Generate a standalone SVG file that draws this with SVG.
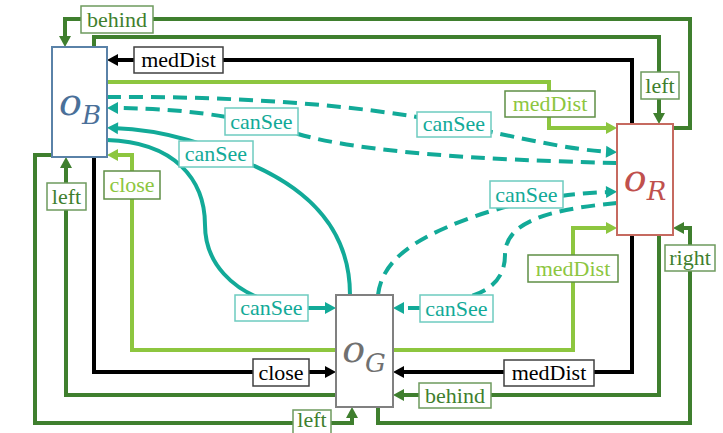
<svg xmlns="http://www.w3.org/2000/svg" width="723" height="433" viewBox="0 0 723 433">
<style>
.ln{fill:none;stroke-width:4;stroke-linejoin:miter}
.dg{stroke:#3F7F2E}
.lg{stroke:#8DC63F}
.tl{stroke:#12AA98}
.bk{stroke:#000}
.da{stroke-dasharray:14 8}
.lb rect{fill:#fff;stroke-width:1.5}
.lb text{font-family:"Liberation Serif",serif;font-size:22px;text-anchor:middle}
.ldg rect{stroke:#6E9A5E}.ldg text{fill:#3F7F2E}
.llg rect{stroke:#5F8F45}.llg text{fill:#8DC63F}
.ltl rect{stroke:#6ECBC0}.ltl text{fill:#12AA98}
.lbk rect{stroke:#404040}.lbk text{fill:#000}
.node rect{fill:#fff;stroke-width:2}
.node text{font-family:"DejaVu Serif",serif;font-style:italic;text-anchor:middle;font-size:38px}
.node tspan{font-size:26px}
</style>
<defs>
<marker id="aDG" markerUnits="userSpaceOnUse" markerWidth="12" markerHeight="12" refX="5" refY="6" orient="auto" overflow="visible"><path d="M0,0 L11,6 L0,12 z" fill="#3F7F2E"/></marker>
<marker id="aLG" markerUnits="userSpaceOnUse" markerWidth="12" markerHeight="12" refX="5" refY="6" orient="auto" overflow="visible"><path d="M0,0 L11,6 L0,12 z" fill="#8DC63F"/></marker>
<marker id="aTL" markerUnits="userSpaceOnUse" markerWidth="12" markerHeight="12" refX="5" refY="6" orient="auto" overflow="visible"><path d="M0,0 L11,6 L0,12 z" fill="#12AA98"/></marker>
<marker id="aBK" markerUnits="userSpaceOnUse" markerWidth="12" markerHeight="12" refX="5" refY="6" orient="auto" overflow="visible"><path d="M0,0 L11,6 L0,12 z" fill="#000"/></marker>
</defs>
<rect width="723" height="433" fill="#fff"/>
<g id="connectors">
<path class="ln dg" d="M673,128 H690 V19 H65 V41" marker-end="url(#aDG)"/>
<path class="ln dg" d="M94,47 V37 H659 V118" marker-end="url(#aDG)"/>
<path class="ln bk" d="M632,124 V60 H113" marker-end="url(#aBK)"/>
<path class="ln lg" d="M107,82 H549 V128 H611" marker-end="url(#aLG)"/>
<path class="ln tl da" d="M107,97 C230,96 360,104 454,124 C520,138 570,150 611,152" marker-end="url(#aTL)"/>
<path class="ln tl da" d="M617,163 C480,160 360,152 298,134 C260,122 200,108 113,108" marker-end="url(#aTL)"/>
<path class="ln tl" d="M350,295 C350,230 310,190 250,164 C210,146 170,130 113,128" marker-end="url(#aTL)"/>
<path class="ln tl" d="M107,140 C175,142 205,180 205,225 C205,265 235,290 265,300 L290,308 H330" marker-end="url(#aTL)"/>
<path class="ln tl da" d="M378,295 C382,262 410,240 470,218 C520,200 570,193 611,192" marker-end="url(#aTL)"/>
<path class="ln tl da" d="M617,203 C540,210 505,225 505,255 C505,282 485,295 455,300 L425,308 H399" marker-end="url(#aTL)"/>
<path class="ln lg" d="M336,350 H132 V155 H113" marker-end="url(#aLG)"/>
<path class="ln lg" d="M393,350 H573 V228 H611" marker-end="url(#aLG)"/>
<path class="ln bk" d="M94,157 V372 H330" marker-end="url(#aBK)"/>
<path class="ln bk" d="M632,235 V372 H399" marker-end="url(#aBK)"/>
<path class="ln dg" d="M336,395 H66 V163" marker-end="url(#aDG)"/>
<path class="ln dg" d="M659,235 V395 H399" marker-end="url(#aDG)"/>
<path class="ln dg" d="M52,155 H35 V423 H352 V413" marker-end="url(#aDG)"/>
<path class="ln dg" d="M378,407 V423 H690 V228 H679" marker-end="url(#aDG)"/>
<g class="lb ldg"><rect x="81" y="6" width="72" height="27"/><text x="117" y="27">behind</text></g>
<g class="lb lbk"><rect x="134" y="47" width="89" height="26"/><text x="178.5" y="67">medDist</text></g>
<g class="lb ldg"><rect x="641" y="72" width="38" height="27"/><text x="660" y="93">left</text></g>
<g class="lb llg"><rect x="505" y="91" width="90" height="26"/><text x="550" y="111">medDist</text></g>
<g class="lb ltl"><rect x="417" y="112" width="74" height="25"/><text x="454" y="131">canSee</text></g>
<g class="lb ltl"><rect x="225" y="108" width="73" height="27"/><text x="261.5" y="129">canSee</text></g>
<g class="lb ltl"><rect x="179" y="141" width="74" height="26"/><text x="216" y="161">canSee</text></g>
<g class="lb llg"><rect x="104" y="171" width="56" height="28"/><text x="132" y="192">close</text></g>
<g class="lb ldg"><rect x="47" y="183" width="39" height="27"/><text x="66.5" y="204">left</text></g>
<g class="lb ltl"><rect x="490" y="181" width="73" height="27"/><text x="526.5" y="202">canSee</text></g>
<g class="lb llg"><rect x="528" y="255" width="90" height="27"/><text x="573" y="276">medDist</text></g>
<g class="lb ldg"><rect x="665" y="245" width="50" height="26"/><text x="690" y="265">right</text></g>
<g class="lb ltl"><rect x="235" y="295" width="73" height="26"/><text x="271.5" y="315">canSee</text></g>
<g class="lb ltl"><rect x="420" y="295" width="73" height="27"/><text x="456.5" y="316">canSee</text></g>
<g class="lb lbk"><rect x="253" y="359" width="56" height="27"/><text x="281" y="380">close</text></g>
<g class="lb lbk"><rect x="504" y="360" width="90" height="26"/><text x="549" y="380">medDist</text></g>
<g class="lb ldg"><rect x="419" y="383" width="72" height="25"/><text x="455" y="403">behind</text></g>
<g class="lb ldg"><rect x="293" y="410" width="38" height="24"/><text x="312" y="427">left</text></g>
</g>
<g id="node-OB" class="node"><rect x="52" y="47" width="55" height="110" stroke="#5A82A8"/><text x="80" y="115" fill="#4A7099">o<tspan dy="9">B</tspan></text></g>
<g id="node-OR" class="node"><rect x="617" y="124" width="56" height="111" stroke="#C66A60"/><text x="645" y="191" fill="#C0504D">o<tspan dy="9">R</tspan></text></g>
<g id="node-OG" class="node"><rect x="336" y="295" width="57" height="112" stroke="#808080"/><text x="364" y="362" fill="#707070">o<tspan dy="10">G</tspan></text></g>
</svg>
